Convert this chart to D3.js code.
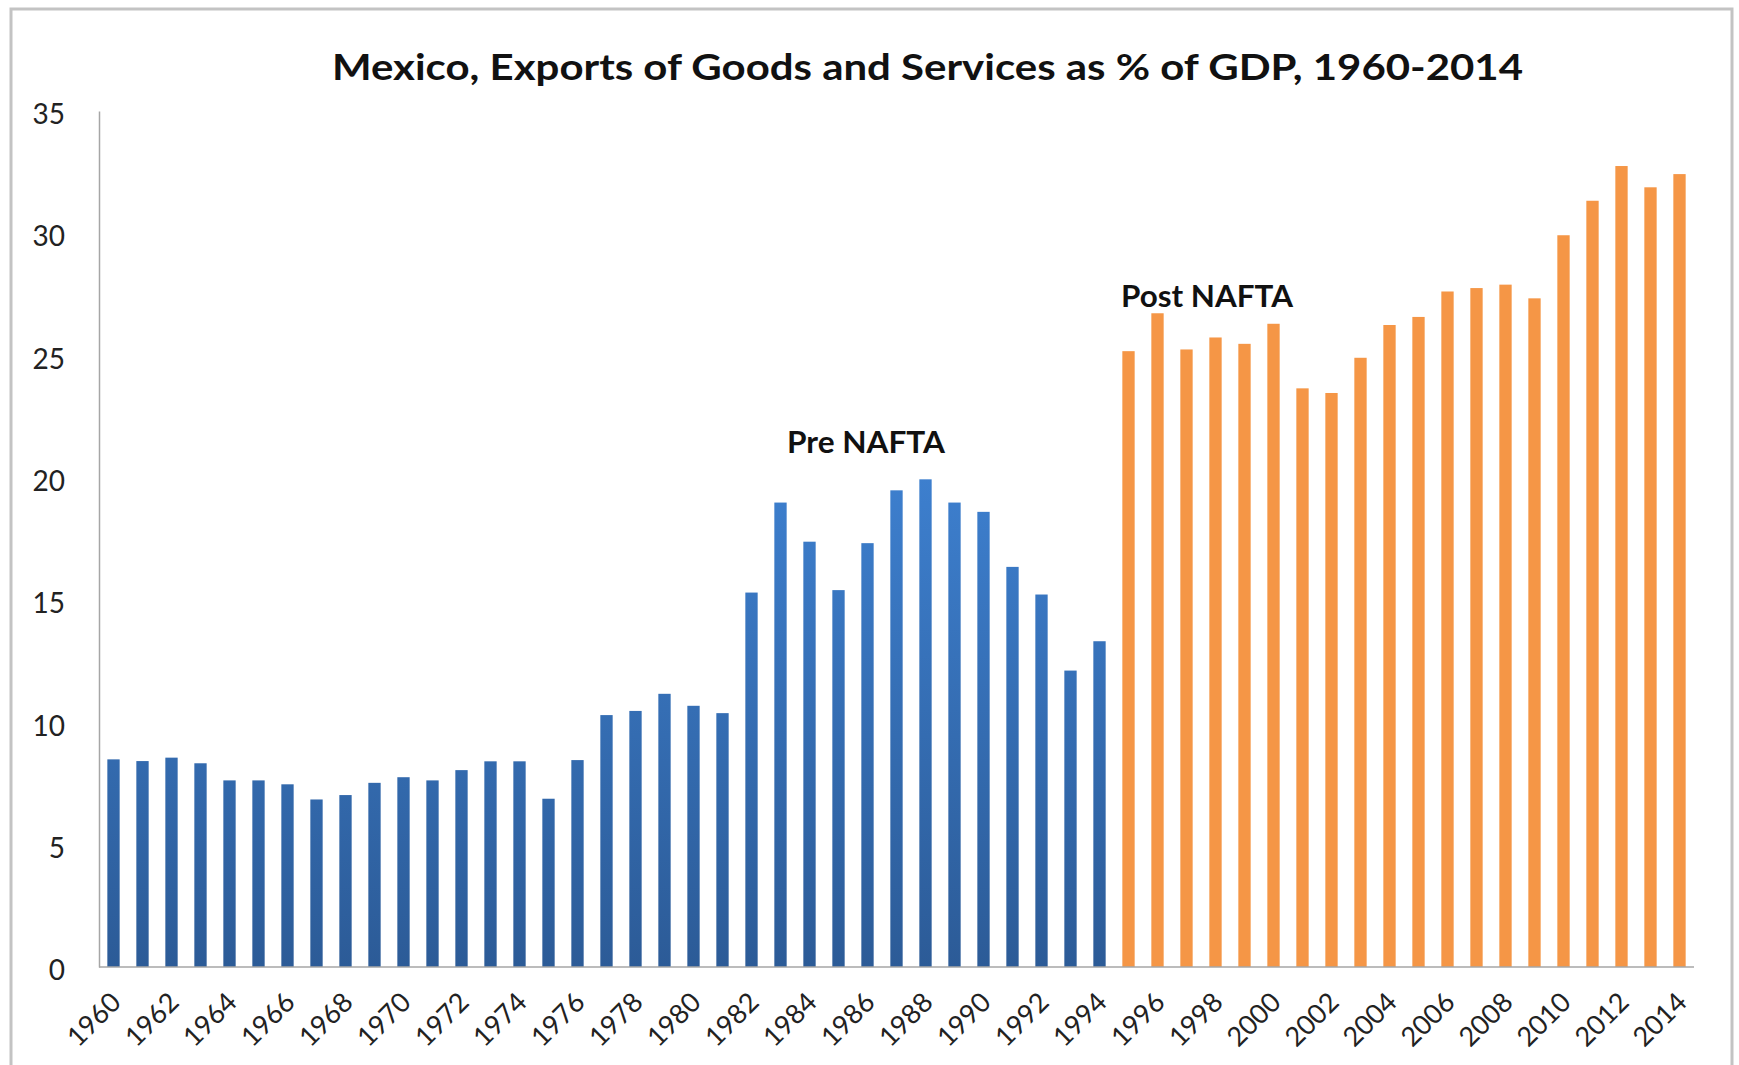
<!DOCTYPE html>
<html>
<head>
<meta charset="utf-8">
<script src="https://cdn.jsdelivr.net/npm/d3@7"></script>
<style>
  html, body { margin: 0; padding: 0; background: #fff; }
  svg { display: block; }
  text { font-family: Lato, "Open Sans", sans-serif; }
</style>
</head>
<body>
<svg id="chart" width="1739" height="1065"></svg>
<script>
// Years on the category axis
const years = d3.range(1960, 2015);

// Exports of goods and services, % of GDP — before NAFTA (1960–1994)
const preNafta = [
  8.49, 8.42, 8.56, 8.33, 7.63, 7.63, 7.47, 6.85, 7.03, 7.53,
  7.76, 7.63, 8.05, 8.41, 8.41, 6.88, 8.46, 10.30, 10.47, 11.17,
  10.68, 10.38, 15.31, 18.99, 17.39, 15.41, 17.33, 19.49, 19.94, 18.99,
  18.61, 16.36, 15.23, 12.12, 13.32
];

// Exports of goods and services, % of GDP — after NAFTA (1995–2014)
const postNafta = [
  25.18, 26.73, 25.25, 25.74, 25.48, 26.30, 23.66, 23.47, 24.91, 26.25,
  26.58, 27.62, 27.76, 27.90, 27.34, 29.92, 31.33, 32.75, 31.88, 32.42
];

const yTicks = [0, 5, 10, 15, 20, 25, 30, 35];
const xTickYears = years.filter(y => y % 2 === 0);

const titleText = "Mexico, Exports of Goods and Services as % of GDP, 1960-2014";
const notes = ["Pre NAFTA", "Post NAFTA"];

// Combined rows for drawing
const rows = years.map((yr, i) => ({
  year: yr,
  value: i < preNafta.length ? preNafta[i] : postNafta[i - preNafta.length],
  period: i < preNafta.length ? "pre" : "post"
}));

const svg = d3.select("#chart");

const plot = { left: 99, right: 1694, top: 111, bottom: 967 };

const x = d3.scaleBand()
  .domain(years)
  .range([plot.left, plot.right])
  .paddingInner(0.575)
  .paddingOuter(0.2875);

const y = d3.scaleLinear()
  .domain([0, 35])
  .range([plot.bottom, plot.top]);

// Vertical gradient for the blue series
const defs = svg.append("defs");
const grad = defs.append("linearGradient")
  .attr("id", "blueFill")
  .attr("gradientUnits", "userSpaceOnUse")
  .attr("x1", 0).attr("x2", 0)
  .attr("y1", y(20)).attr("y2", plot.bottom);
grad.append("stop").attr("offset", "0%").attr("stop-color", "#3d7fce");
grad.append("stop").attr("offset", "100%").attr("stop-color", "#2c5b97");

// Outer chart frame
svg.append("rect")
  .attr("x", 11).attr("y", 9)
  .attr("width", 1721).attr("height", 1100)
  .attr("fill", "none")
  .attr("stroke", "#c3c3c3")
  .attr("stroke-width", 3);

// Title
svg.append("text")
  .attr("x", 927.5).attr("y", 80)
  .attr("text-anchor", "middle")
  .attr("font-size", 37)
  .attr("font-weight", 700)
  .attr("fill", "#111")
  .attr("textLength", 1191)
  .attr("lengthAdjust", "spacingAndGlyphs")
  .text(titleText);

// Bars
svg.append("g").selectAll("rect")
  .data(rows)
  .join("rect")
  .attr("x", d => x(d.year))
  .attr("width", x.bandwidth())
  .attr("y", d => y(d.value))
  .attr("height", d => y(0) - y(d.value))
  .attr("fill", d => d.period === "pre" ? "url(#blueFill)" : "#f59646");

// Y axis
const yAxis = svg.append("g")
  .attr("transform", `translate(${plot.left},0)`)
  .call(d3.axisLeft(y).tickValues(yTicks).tickSize(0).tickPadding(34).tickFormat(d3.format("d")));
yAxis.select(".domain").attr("stroke", "#a6a6a6").attr("stroke-width", 1.5);
yAxis.selectAll("text")
  .attr("font-size", 28)
  .attr("fill", "#222")
  .attr("font-family", "Lato, 'Open Sans', sans-serif")
  .attr("dy", "0.45em");

// X axis with diagonal year labels
const xAxis = svg.append("g")
  .attr("transform", `translate(0,${plot.bottom})`)
  .call(d3.axisBottom(x).tickValues(xTickYears).tickSize(0).tickFormat(d3.format("d")));
xAxis.select(".domain")
  .attr("d", `M${plot.left},0H${plot.right}`)
  .attr("stroke", "#a6a6a6").attr("stroke-width", 1.5);
xAxis.selectAll("text")
  .attr("font-size", 27)
  .attr("fill", "#222")
  .attr("font-family", "Lato, 'Open Sans', sans-serif")
  .attr("text-anchor", "end")
  .attr("dy", null)
  .attr("y", 0)
  .attr("transform", "translate(9,37) rotate(-45)");

// Period annotations
const notePos = [
  { x: 866, v: 21.02, w: 158 },
  { x: 1207, v: 26.99, w: 172 }
];
svg.append("g").selectAll("text")
  .data(notes)
  .join("text")
  .attr("x", (d, i) => notePos[i].x)
  .attr("y", (d, i) => y(notePos[i].v))
  .attr("text-anchor", "middle")
  .attr("font-size", 30)
  .attr("font-weight", 700)
  .attr("fill", "#111")
  .attr("textLength", (d, i) => notePos[i].w)
  .attr("lengthAdjust", "spacingAndGlyphs")
  .text(d => d);
</script>
</body>
</html>
